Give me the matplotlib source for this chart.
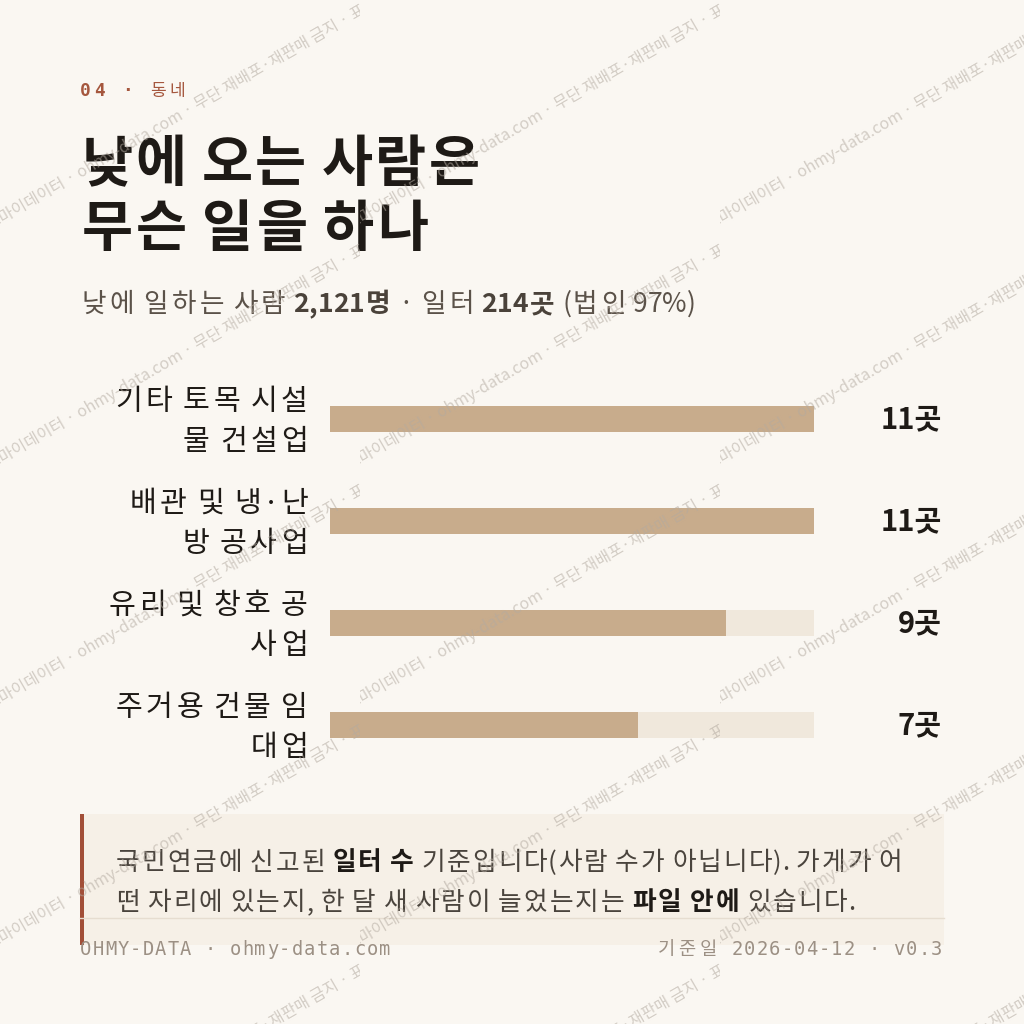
import matplotlib
matplotlib.use("Agg")
import matplotlib.pyplot as plt
from matplotlib.patches import Rectangle
from matplotlib.transforms import Bbox

# data
categories = ["기타 토목 시설\n물 건설업", "배관 및 냉·난\n방 공사업", "유리 및 창호 공\n사업", "주거용 건물 임\n대업"]
counts = [11, 11, 9, 7]
count_unit = "곳"
section = "04 ·"
section_name = "동네"
title_lines = ["낮에 오는 사람은", "무슨 일을 하나"]
subtitle_parts = [("낮에 일하는 사람 ", False), ("2,121명", True), (" · 일터 ", False),
                  ("214곳", True), (" (법인 97%)", False)]
note_lines = [[("국민연금에 신고된 ", False), ("일터 수", True), (" 기준입니다(사람 수가 아닙니다). 가게가 어", False)],
              [("떤 자리에 있는지, 한 달 새 사람이 늘었는지는 ", False), ("파일 안에", True), (" 있습니다.", False)]]
footer_left = "OHMY-DATA · ohmy-data.com"
footer_right = "기준일 2026-04-12 · v0.3"
watermark = "오마이데이터 · ohmy-data.com · 무단 재배포·재판매 금지 · 표시"

BG = "#FAF7F2"
INK = "#1E1A16"
RUST = "#A5573E"
SUB = "#5B5249"
SUB_BOLD = "#4A423A"
BAR = "#C8AC8C"
TRACK = "#F0E8DC"
NOTE_BG = "#F6F0E7"
NOTE_INK = "#4A443D"
FOOT = "#9C9084"
KR = ["Noto Sans CJK KR", "DejaVu Sans"]
MONO = ["DejaVu Sans Mono", "Noto Sans CJK KR"]

fig = plt.figure(figsize=(10.24, 10.24), dpi=100)
fig.patch.set_facecolor(BG)
renderer = fig.canvas.get_renderer()

bg = fig.add_axes([0, 0, 1, 1], zorder=0)
bg.set_xlim(0, 1024)
bg.set_ylim(1024, 0)
bg.axis("off")

_cache = {}


def text_w(s, **kw):
    t = bg.text(0, 0, s, **kw)
    w = t.get_window_extent(renderer).width
    t.remove()
    return w


def adv(c, **kw):
    # advance width of one character (spaces included)
    key = (c, tuple(sorted((k, str(v)) for k, v in kw.items())))
    if key not in _cache:
        _cache[key] = text_w("x" + c + "x", **kw) - text_w("xx", **kw)
    return _cache[key]


def is_hangul(c):
    return 0xAC00 <= ord(c) <= 0xD7A3


def runs(x, y, parts, sp=0.0, hsp=0.0, ha="left"):
    """Draw styled runs char by char; sp = letter spacing, hsp = extra width for hangul."""
    chars = []
    for s, style in parts:
        for c in s:
            w = adv(c, **{k: v for k, v in style.items() if k != "color"})
            extra = sp + (hsp if is_hangul(c) else 0)
            chars.append((c, style, w, extra))
    total = sum(w + e for _, _, w, e in chars) - chars[-1][3]
    if ha == "right":
        x -= total
    for c, style, w, e in chars:
        if c != " ":
            bg.text(x + (hsp / 2 if is_hangul(c) else 0), y, c, va="baseline", ha="left", **style)
        x += w + e


def rich_parts(parts, size, color, bold_color):
    out = []
    for s, bold in parts:
        out.append((s, dict(size=size, family=KR, weight="bold" if bold else "normal",
                            color=bold_color if bold else color)))
    return out


# header
runs(80, 96, [(section, dict(size=12.8, family=MONO, weight="bold", color=RUST))], sp=3.3)
runs(150, 96, [(section_name, dict(size=12.3, family=KR, color=RUST))], sp=4)

# title
title_style = dict(size=40, weight="bold", family=KR, color=INK)
runs(80, 181, [(title_lines[0], title_style)], hsp=2.6)
runs(80, 246, [(title_lines[1], title_style)], hsp=3.0)

# subtitle
runs(80, 312, rich_parts(subtitle_parts, 19.2, SUB, SUB_BOLD), hsp=3.4)

# note box
bg.add_patch(Rectangle((80, 814), 864, 131, color=NOTE_BG, lw=0))
bg.add_patch(Rectangle((80, 814), 4, 131, color="#A24F38", lw=0))
bg.plot([80, 944], [918, 918], color="#E6DDD0", lw=1)
runs(115, 870, rich_parts(note_lines[0], 18.5, NOTE_INK, INK), hsp=2.0)
runs(115, 910, rich_parts(note_lines[1], 18.5, NOTE_INK, INK), hsp=2.1)

# footer
foot_style = dict(size=13.5, family=MONO, color=FOOT)
runs(80, 955, [(footer_left, foot_style)], sp=1.2)
runs(942, 955, [(footer_right, foot_style)], sp=1.2, hsp=2.5, ha="right")

# bars
x0, x1 = 330, 814
row = 102
top = 419 - row / 2
ax = fig.add_axes([x0 / 1024, 1 - (top + row * 4) / 1024, (x1 - x0) / 1024, row * 4 / 1024], zorder=1)
ax.set_facecolor("none")
ypos = list(range(len(counts)))
vmax = max(counts)
ax.barh(ypos, [vmax] * len(counts), height=0.255, color=TRACK, lw=0)
ax.barh(ypos, counts, height=0.255, color=BAR, lw=0)
ax.set_xlim(0, vmax)
ax.set_ylim(len(counts) - 0.5, -0.5)
ax.set_xticks([])
ax.set_yticks([])
for s in ax.spines.values():
    s.set_visible(False)
for i, v in enumerate(counts):
    ax.text(1 + 128 / (x1 - x0), i, f"{v}{count_unit}", transform=ax.get_yaxis_transform(),
            ha="right", va="center", size=21, weight="bold", family=KR, color=INK)

# category labels, right aligned left of the bars
label_style = dict(size=21, family=KR, color=INK)
for i, lab in enumerate(categories):
    cy = 1024 - ax.transData.transform((0, ypos[i]))[1]
    lines = lab.split("\n")
    for j, line in enumerate(lines):
        base = cy + 11 + (j - (len(lines) - 1) / 2) * 41
        runs(306, base, [(line, label_style)], hsp=3.7, ha="right")

# watermark tiles
wm = fig.add_axes([0, 0, 1, 1], zorder=10)
wm.set_facecolor("none")
wm.set_xlim(0, 1024)
wm.set_ylim(1024, 0)
wm.axis("off")
for tx in range(0, 1024, 360):
    for ty in range(0, 1024, 240):
        t = wm.text(tx - 10, ty + 231, watermark, rotation=30, rotation_mode="anchor",
                    ha="left", va="baseline", size=11.5, family=KR, color="#B3AAA0", alpha=0.55)
        t.set_clip_box(Bbox.from_extents(tx, 1024 - (ty + 240), tx + 360, 1024 - ty))
        t.set_clip_on(True)

fig.savefig("out.png", dpi=100, facecolor=BG)
